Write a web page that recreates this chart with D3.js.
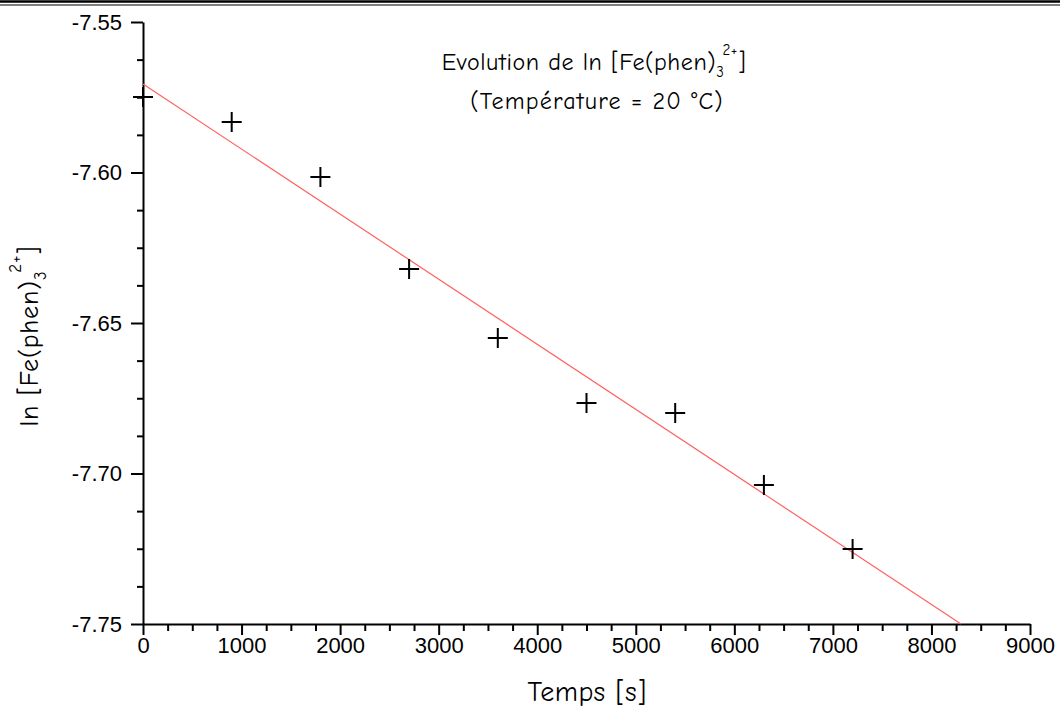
<!DOCTYPE html>
<html><head><meta charset="utf-8">
<script src="https://cdn.jsdelivr.net/npm/d3@7"></script>
<style>
body{margin:0;background:#fff;}
svg{display:block;}
.tick text{font-family:"Liberation Sans",Arial,sans-serif;}
.comic{font-family:"Comic Sans MS","Comic Neue","Lato","Noto Sans",sans-serif;}
</style></head>
<body>
<svg id="chart" width="1060" height="708"></svg>
<script>
// Data
const times = [0, 900, 1800, 2700, 3600, 4500, 5400, 6300, 7200];
const lnConc = [-7.5749, -7.5832, -7.6015, -7.6321, -7.6550, -7.6766, -7.6799, -7.7038, -7.7251];
const fitTimes = [0, 8300];
const fitValues = [-7.5706, -7.75];
const xTicks = [0, 1000, 2000, 3000, 4000, 5000, 6000, 7000, 8000, 9000];
const yTicks = [-7.55, -7.60, -7.65, -7.70, -7.75];

const svg = d3.select("#chart");
const pL = 143, pR = 1030, pT = 22, pB = 624;

const x = d3.scaleLinear().domain([0, 9000]).range([pL, pR]);
const y = d3.scaleLinear().domain([-7.75, -7.55]).range([pB, pT]);

// top double border
svg.append("line").attr("x1",0).attr("x2",1060).attr("y1",1.5).attr("y2",1.5).attr("stroke","#000").attr("stroke-width",2.5);
svg.append("line").attr("x1",0).attr("x2",1060).attr("y1",5).attr("y2",5).attr("stroke","#000").attr("stroke-width",1);

// minor ticks
const xMinor = d3.range(0, 9001, 250).filter(v => v % 1000 !== 0);
const yMinor = d3.range(0, 17).map(i => -7.75 + i*0.0125).filter((v,i) => i % 4 !== 0);

const gx = svg.append("g").attr("transform", `translate(0,${pB})`);
gx.call(d3.axisBottom(x).tickValues(xMinor).tickSize(7).tickFormat(""));
gx.select(".domain").remove();
const gx2 = svg.append("g").attr("transform", `translate(0,${pB})`);
gx2.call(d3.axisBottom(x).tickValues(xTicks).tickSize(11).tickSizeOuter(0).tickPadding(2).tickFormat(d => String(d)));
gx2.selectAll(".tick text").attr("font-size", 22).attr("fill","#000");

const gy = svg.append("g").attr("transform", `translate(${pL},0)`);
gy.call(d3.axisLeft(y).tickValues(yMinor).tickSize(6).tickFormat(""));
gy.select(".domain").remove();
const gy2 = svg.append("g").attr("transform", `translate(${pL},0)`);
gy2.call(d3.axisLeft(y).tickValues(yTicks).tickSize(12).tickSizeOuter(0).tickPadding(9).tickFormat(d => d.toFixed(2)));
gy2.selectAll(".tick text").attr("font-size", 22).attr("fill","#000");

svg.selectAll(".domain, .tick line").attr("stroke","#000").attr("stroke-width",2);

// fit line
svg.append("line")
  .attr("x1", x(fitTimes[0])).attr("y1", y(fitValues[0]))
  .attr("x2", x(fitTimes[1])).attr("y2", y(fitValues[1]))
  .attr("stroke", "#ff6060").attr("stroke-width", 1.2);

// markers
const pts = svg.append("g");
times.forEach((t, i) => {
  const cx = x(t), cy = y(lnConc[i]);
  pts.append("path").attr("d", `M${cx-10},${cy}H${cx+10}M${cx},${cy-10}V${cy+10}`)
    .attr("stroke","#000").attr("stroke-width",2).attr("fill","none");
});

// title
const t1 = svg.append("text").attr("class","comic").attr("x",594).attr("y",70)
  .attr("text-anchor","middle").attr("font-size",24).attr("letter-spacing",0.6).attr("fill","#000");
t1.append("tspan").text("Evolution de ln [Fe(phen)");
t1.append("tspan").attr("font-size",15).attr("dy",7).text("3");
t1.append("tspan").attr("font-size",15).attr("dy",-22).attr("dx",-2).text("2+");
t1.append("tspan").attr("dy",15).text("]");
svg.append("text").attr("class","comic").attr("x",597).attr("y",109)
  .attr("text-anchor","middle").attr("font-size",24).attr("letter-spacing",1.2).attr("fill","#000")
  .text("(Température = 20 °C)");

// x title
svg.append("text").attr("class","comic").attr("x",587).attr("y",701)
  .attr("text-anchor","middle").attr("font-size",28).attr("letter-spacing",0.5).attr("fill","#000").text("Temps [s]");

// y title
const yt = svg.append("text").attr("class","comic")
  .attr("transform","translate(38,336) rotate(-90)")
  .attr("text-anchor","middle").attr("font-size",26).attr("letter-spacing",0.8).attr("fill","#000");
yt.append("tspan").text("ln [Fe(phen)");
yt.append("tspan").attr("font-size",17).attr("dy",8).text("3");
yt.append("tspan").attr("font-size",17).attr("dy",-25).attr("dx",-2).text("2+");
yt.append("tspan").attr("dy",17).text("]");
</script>
</body></html>
